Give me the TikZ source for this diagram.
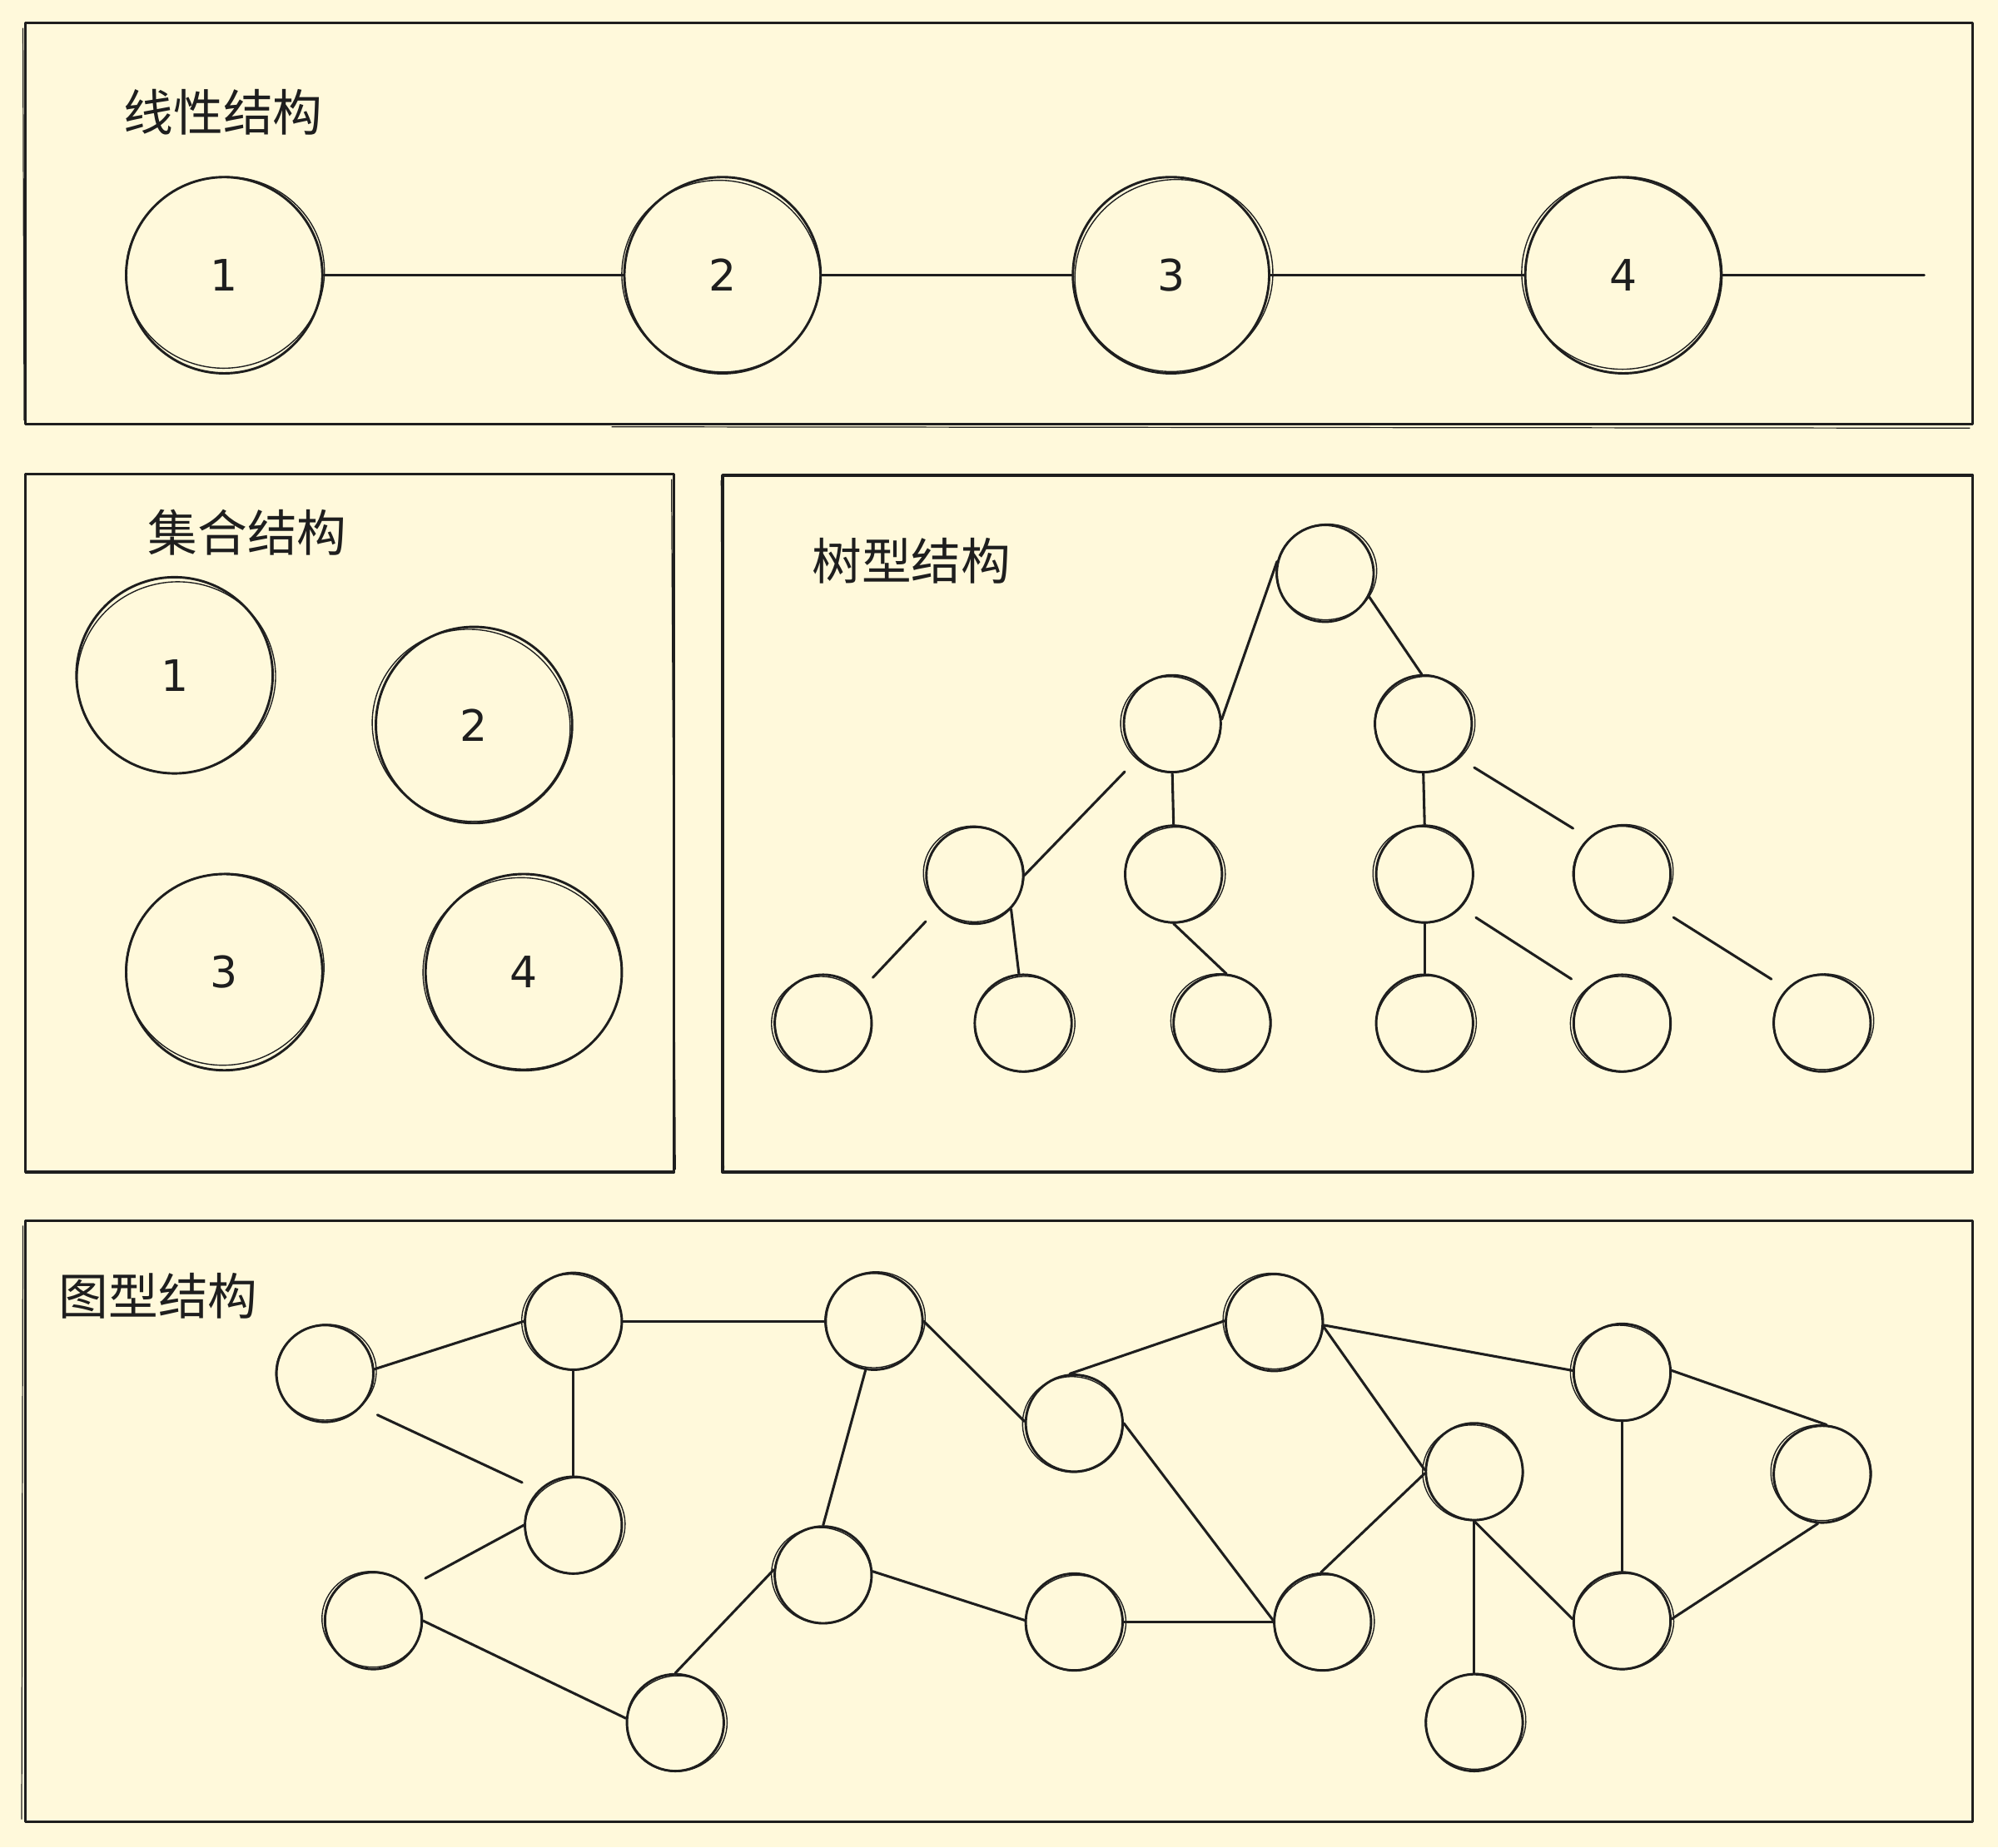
\documentclass[tikz,border=0pt]{standalone}
\usepackage{fontspec}
\newfontfamily\cjk{Noto Sans CJK SC}
\newfontfamily\digitfont{DejaVu Sans}
\definecolor{paper}{HTML}{FFF9DB}
\definecolor{ink}{HTML}{1E1E1E}

\tikzset{
  panel/.style={draw=ink, line width=2.2pt, line join=round},
  panelsketch/.style={draw=ink, line width=0.8pt},
  title/.style={font=\cjk\fontsize{39}{39}\selectfont, anchor=west, text=ink, inner sep=0pt},
  bigcircle/.style={circle, draw=ink, line width=1.9pt, minimum size=154pt, inner sep=0pt,
    font=\digitfont\fontsize{34}{34}\selectfont, text=ink},
  smallcircle/.style={circle, draw=ink, line width=1.9pt, minimum size=76pt, inner sep=0pt},
  sketch/.style={draw=ink, line width=0.9pt},
  link/.style={draw=ink, line width=2pt, line cap=round},
  looselink/.style={link, shorten <=14pt, shorten >=14pt},
}

\begin{document}
\begin{tikzpicture}[x=1pt, y=-1pt]
\fill[paper] (0,0) rectangle (1568,1450);
\useasboundingbox (0,0) rectangle (1568,1450);

% ---------- panels ----------
\draw[panel] (20,18) rectangle (1548,333);
\draw[panelsketch] (18,22) -- (19,330) (480,335) -- (1546,336);
\draw[panel] (20,372) rectangle (529,920);
\draw[panelsketch] (527,376) -- (530,918);
\draw[panel] (567,373) rectangle (1548,920);
\draw[panelsketch] (566,377) -- (568,917);
\draw[panel] (20,958) rectangle (1548,1430);
\draw[panelsketch] (18,962) -- (17,1428);

% ---------- titles ----------
\node[title] (t1) at (97,88) {线性结构};
\node[title] (t2) at (116,418) {集合结构};
\node[title] (t3) at (637,440) {树型结构};
\node[title] (t4) at (46,1017) {图型结构};

% ---------- linear structure ----------
\node[bigcircle] (l1) at (176,216) {1};
\node[bigcircle] (l2) at (567,216) {2};
\node[bigcircle] (l3) at (919,216) {3};
\node[bigcircle] (l4) at (1274,216) {4};
\coordinate (lend) at (1510,216);
\draw[link] (l1) -- (l2);
\draw[link] (l2) -- (l3);
\draw[link] (l3) -- (l4);
\draw[link] (l4) -- (lend);

% ---------- set structure ----------
\node[bigcircle] (s1) at (137,530) {1};
\node[bigcircle] (s2) at (372,569) {2};
\node[bigcircle] (s3) at (176,763) {3};
\node[bigcircle] (s4) at (411,763) {4};

\foreach \n/\dx/\dy/\rot in {l1/1/-2/10, l2/-1/1/-15, l3/2/1/20, l4/-2/-1/-8,
                             s1/1/2/12, s2/-2/1/-20, s3/1/-2/15, s4/-1/1/-10} {
  \draw[sketch, rotate around={\rot:(\n.center)}] (\n.center) ++(\dx,\dy)
    ellipse [x radius=78, y radius=75];
}

% ---------- tree structure ----------
\node[smallcircle] (root) at (1040,450) {};
\node[smallcircle] (ta) at (920,568) {};
\node[smallcircle] (tb) at (1117,568) {};
\node[smallcircle] (tc) at (765,687) {};
\node[smallcircle] (td) at (921,686) {};
\node[smallcircle] (te) at (1118,686) {};
\node[smallcircle] (tf) at (1273,686) {};
\node[smallcircle] (tg) at (646,803) {};
\node[smallcircle] (th) at (803,803) {};
\node[smallcircle] (ti) at (959,803) {};
\node[smallcircle] (tj) at (1118,803) {};
\node[smallcircle] (tk) at (1273,803) {};
\node[smallcircle] (tl) at (1430,803) {};

\draw[link] (root.166) -- (ta.5);
\draw[link] (root.-28) -- (tb.92);
\draw[link, shorten <=14pt] (ta.225) -- (tc.0);
\draw[link] (ta.-90) -- (td.90);
\draw[link] (tb.-90) -- (te.90);
\draw[looselink] (tb.-44) -- (tf.133);
\draw[looselink] (tc.222) -- (tg.41);
\draw[link] (tc.-43) -- (th.95);
\draw[link] (td.-90) -- (ti.85);
\draw[link] (te.-90) -- (tj.90);
\draw[looselink] (te.-43) -- (tk.136);
\draw[looselink] (tf.-43) -- (tl.136);

% ---------- graph structure ----------
\node[smallcircle] (g1) at (255,1078) {};
\node[smallcircle] (g2) at (450,1037) {};
\node[smallcircle] (g3) at (450,1197) {};
\node[smallcircle] (g4) at (293,1272) {};
\node[smallcircle] (g5) at (530,1352) {};
\node[smallcircle] (g6) at (646,1236) {};
\node[smallcircle] (g7) at (686,1037) {};
\node[smallcircle] (g8) at (843,1117) {};
\node[smallcircle] (g9) at (843,1273) {};
\node[smallcircle] (g10) at (1000,1038) {};
\node[smallcircle] (g11) at (1038,1273) {};
\node[smallcircle] (g12) at (1157,1155) {};
\node[smallcircle] (g13) at (1157,1352) {};
\node[smallcircle] (g14) at (1273,1077) {};
\node[smallcircle] (g15) at (1273,1272) {};
\node[smallcircle] (g16) at (1430,1157) {};

\draw[link] (g1.5) -- (g2.180);
\draw[looselink] (g1.-43) -- (g3.135);
\draw[link] (g2.-90) -- (g3.90);
\draw[link] (g2.0) -- (g7.180);
\draw[link, shorten >=14pt] (g3.180) -- (g4.43);
\draw[link] (g4.0) -- (g5.175);
\draw[link] (g5.90) -- (g6.174);
\draw[link] (g6.90) -- (g7.-100);
\draw[link] (g6.4) -- (g9.178);
\draw[link] (g7.0) -- (g8.178);
\draw[link] (g8.95) -- (g10.178);
\draw[link] (g8.0) -- (g11.178);
\draw[link] (g9.0) -- (g11.180);
\draw[link] (g10.-3) -- (g14.178);
\draw[link] (g10.-5) -- (g12.178);
\draw[link] (g11.92) -- (g12.182);
\draw[link] (g12.-90) -- (g13.90);
\draw[link] (g12.-90) -- (g15.178);
\draw[link] (g14.-90) -- (g15.90);
\draw[link] (g14.2) -- (g16.85);
\draw[link] (g15.2) -- (g16.-95);

\foreach \n/\dx/\dy/\rot in {root/1/-1/10, ta/-1/1/-15, tb/1/1/20, tc/-1/-1/-8,
    td/1/1/12, te/-1/1/-20, tf/1/-1/15, tg/-1/1/-10, th/1/1/8, ti/-1/-1/-12,
    tj/1/1/18, tk/-1/1/-6, tl/1/-1/10,
    g1/1/-1/10, g2/-1/1/-15, g3/1/1/20, g4/-1/-1/-8, g5/1/1/12, g6/-1/1/-20,
    g7/1/-1/15, g8/-1/1/-10, g9/1/1/8, g10/-1/-1/-12, g11/1/1/18, g12/-1/1/-6,
    g13/1/-1/10, g14/-1/1/-14, g15/1/1/16, g16/-1/-1/-9} {
  \draw[sketch, rotate around={\rot:(\n.center)}] (\n.center) ++(\dx,\dy)
    ellipse [x radius=39.5, y radius=37.5];
}
\end{tikzpicture}
\end{document}
